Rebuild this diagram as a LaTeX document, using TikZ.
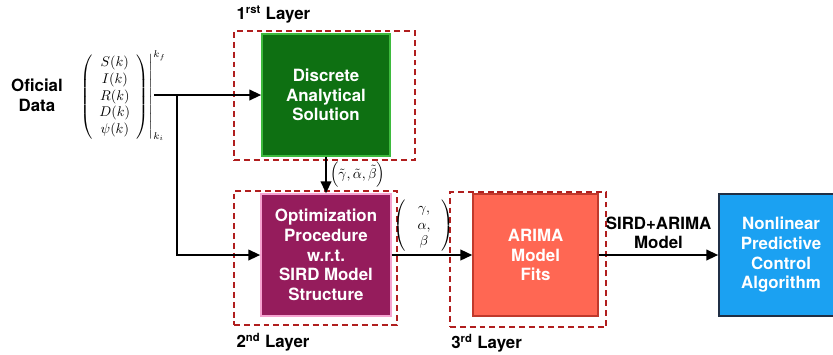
\documentclass[tikz,border=0pt]{standalone}
\usepackage{amsmath,amssymb}
\usepackage{fontspec}
\setsansfont{TeX Gyre Heros}
\usetikzlibrary{arrows.meta,positioning,calc}

\definecolor{layerred}{HTML}{B01E1E}
\definecolor{solgreen}{HTML}{0E7012}
\definecolor{solgreenedge}{HTML}{3DBA3D}
\definecolor{optpurple}{HTML}{951C5C}
\definecolor{optpink}{HTML}{F6A2D0}
\definecolor{arimared}{HTML}{FF6753}
\definecolor{arimaedge}{HTML}{C0392B}
\definecolor{ctrlblue}{HTML}{1BA1F2}
\definecolor{ctrledge}{HTML}{202F45}

\begin{document}
\begin{tikzpicture}[
    block/.style={draw, line width=1pt, minimum height=3.05cm, align=center, text=white, font=\sffamily\bfseries\large},
    layer/.style={draw=layerred, line width=1.4pt, dash pattern=on 4.2pt off 2.8pt},
    layertext/.style={font=\sffamily\bfseries\large, inner sep=0pt},
    link/.style={-{Triangle[length=3mm,width=2.6mm]}, line width=1.8pt}
]
    \clip (0,0) rectangle (20.825,-8.85);

    % Dashed frames of the three layers
    \node[layer, minimum width=4.525cm, minimum height=3.225cm] (frameA) at (8.1125,-2.3875) {};
    \node[layer, minimum width=4.075cm, minimum height=3.35cm] (frameB) at (7.8875,-6.45) {};
    \node[layer, minimum width=3.9cm, minimum height=3.375cm] (frameC) at (13.2,-6.4875) {};

    \node[layertext, above right=0.17cm and 0.08cm of frameA.north west] (labelA) {1\textsuperscript{rst} Layer};
    \node[layertext, below right=0.17cm and 0.08cm of frameB.south west] (labelB) {2\textsuperscript{nd} Layer};
    \node[layertext, below right=0.15cm and 0.05cm of frameC.south west] (labelC) {3\textsuperscript{rd} Layer};

    % Blocks
    \node[block, fill=solgreen, draw=solgreenedge, minimum width=3.2cm] (solution) at (8.15,-2.375) {Discrete\\Analytical\\Solution};
    \node[block, fill=optpurple, draw=optpink, minimum width=3.25cm] (optim) at (8.15,-6.375) {Optimization\\Procedure\\w.r.t.\\SIRD Model\\Structure};
    \node[block, fill=arimared, draw=arimaedge, minimum width=3.125cm] (arima) at (13.39,-6.375) {ARIMA\\Model\\Fits};
    \node[block, fill=ctrlblue, draw=ctrledge, minimum width=3.1cm] (control) at (19.525,-6.375) {Nonlinear\\Predictive\\Control\\Algorithm};

    % Input data
    \node[font=\sffamily\bfseries\large, align=center] (oficial) at (0.925,-2.375) {Oficial\\Data};
    \node[inner sep=0pt] (data) at (3.07,-2.4) {\setlength{\arraycolsep}{4.5pt}$\left.\left(\begin{array}{c} S(k)\\ I(k)\\ R(k)\\ D(k)\\ \psi(k)\end{array}\right)\right|_{k_i}^{k_f}$};
    \coordinate (feed) at (3.85,-2.375);
    \coordinate (split) at (4.425,-2.375);

    % Connections
    \draw[link] (feed) -- (solution.west);
    \draw[link] (split) |- (optim.west);
    \draw[link] (solution.south) -- node[right, inner sep=2pt] {$\left(\tilde{\gamma},\tilde{\alpha},\tilde{\beta}\right)$} (optim.north);
    \draw[link] (optim.east) -- node[above, pos=0.4, inner sep=2pt] {\setlength{\arraycolsep}{8pt}$\left(\begin{array}{c}\gamma,\\ \alpha,\\ \beta\end{array}\right)$} (arima.west);
    \draw[link] (arima.east) -- node[above, align=center, font=\sffamily\bfseries\large] {SIRD+ARIMA\\Model} (control.west);
\end{tikzpicture}
\end{document}
